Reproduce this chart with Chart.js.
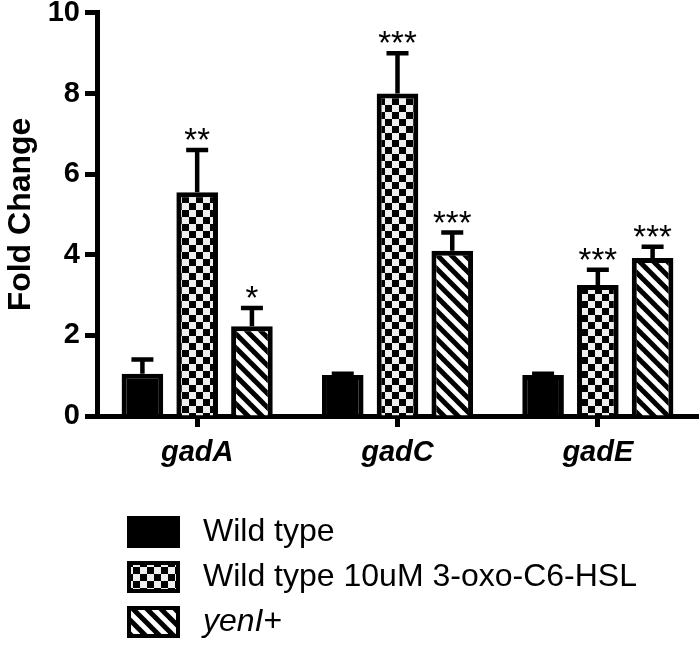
<!DOCTYPE html>
<html>
<head>
<meta charset="utf-8">
<script src="https://cdn.jsdelivr.net/npm/chart.js@4.4.1/dist/chart.umd.min.js"></script>
<style>
  html, body { margin: 0; padding: 0; background: #fff; }
  #wrap { width: 700px; height: 647px; }
</style>
</head>
<body>
<div id="wrap"><canvas id="c" width="700" height="647"></canvas></div>
<script>
// ---- data ----
const categories = ['gadA', 'gadC', 'gadE'];
const seriesNames = ['Wild type', 'Wild type 10uM 3-oxo-C6-HSL', 'yenI+'];
const wildType = [1.05, 1.02, 1.02];
const wildTypeErr = [0.35, 0.03, 0.03];
const ahl = [5.55, 8.0, 3.25];
const ahlErr = [1.05, 1.0, 0.38];
const yenI = [2.23, 4.1, 3.92];
const yenIErr = [0.45, 0.45, 0.28];
const wildTypeStars = ['', '', ''];
const ahlStars = ['**', '***', '***'];
const yenIStars = ['*', '***', '***'];
const yTicks = [0, 2, 4, 6, 8, 10];

// ---- patterns ----
function checkerPattern() {
  const s = 7;
  const cv = document.createElement('canvas');
  cv.width = 2 * s; cv.height = 2 * s;
  const g = cv.getContext('2d');
  g.fillStyle = '#eeeeee';
  g.fillRect(0, 0, 2 * s, 2 * s);
  g.fillStyle = '#000';
  g.fillRect(0, 0, s, s);
  g.fillRect(s, s, s, s);
  return g.createPattern(cv, 'repeat');
}
function hatchPattern() {
  const s = 14;
  const cv = document.createElement('canvas');
  cv.width = s; cv.height = s;
  const g = cv.getContext('2d');
  g.fillStyle = '#fff';
  g.fillRect(0, 0, s, s);
  g.strokeStyle = '#000';
  g.lineWidth = 5;
  for (const k of [-s, 0, s]) {
    g.beginPath();
    g.moveTo(-s, -s + k);
    g.lineTo(2 * s, 2 * s + k);
    g.stroke();
  }
  return g.createPattern(cv, 'repeat');
}
const fills = ['#000000', checkerPattern(), hatchPattern()];
const errs = [wildTypeErr, ahlErr, yenIErr];
const stars = [wildTypeStars, ahlStars, yenIStars];

const FONT = "'Liberation Sans', Arial, Helvetica, sans-serif";

// ---- error bars + stars ----
const errorBarPlugin = {
  id: 'errorBars',
  afterDatasetsDraw(chart) {
    const ctx = chart.ctx;
    const ys = chart.scales.y;
    chart.data.datasets.forEach((ds, i) => {
      const meta = chart.getDatasetMeta(i);
      meta.data.forEach((bar, j) => {
        const v = ds.data[j];
        const e = errs[i][j];
        const yTop = ys.getPixelForValue(v);
        const yCap = ys.getPixelForValue(v + e);
        ctx.save();
        ctx.strokeStyle = '#000';
        ctx.lineWidth = 4.5;
        ctx.lineCap = 'butt';
        ctx.beginPath();
        ctx.moveTo(bar.x, yTop);
        ctx.lineTo(bar.x, yCap);
        ctx.moveTo(bar.x - 11, yCap);
        ctx.lineTo(bar.x + 11, yCap);
        ctx.stroke();
        const st = stars[i][j];
        if (st) {
          ctx.fillStyle = '#000';
          ctx.font = '33px ' + FONT;
          ctx.textAlign = 'center';
          ctx.textBaseline = 'alphabetic';
          ctx.fillText(st, bar.x, yCap + 1);
        }
        ctx.restore();
      });
    });
  }
};

// ---- legend ----
const legendPlugin = {
  id: 'customLegend',
  afterDraw(chart) {
    const ctx = chart.ctx;
    const rows = [532, 577, 622];
    const bx = 127, bw = 53, bh = 32;
    ctx.save();
    rows.forEach((cy, i) => {
      ctx.fillStyle = '#000';
      ctx.fillRect(bx, cy - bh / 2, bw, bh);
      ctx.fillStyle = fills[i];
      if (i > 0) ctx.fillRect(bx + 4, cy - bh / 2 + 4, bw - 8, bh - 8);
      ctx.fillStyle = '#000';
      ctx.textBaseline = 'middle';
      ctx.textAlign = 'left';
      const name = seriesNames[i];
      if (i === 2) {
        ctx.font = 'italic 32px ' + FONT;
        const base = name.slice(0, -1);
        ctx.fillText(base, 203, cy);
        const w = ctx.measureText(base).width;
        ctx.font = '32px ' + FONT;
        ctx.fillText('+', 203 + w, cy);
      } else {
        ctx.font = '32px ' + FONT;
        ctx.fillText(name, 203, cy);
      }
    });
    ctx.restore();
  }
};

new Chart(document.getElementById('c'), {
  type: 'bar',
  data: {
    labels: categories,
    datasets: seriesNames.map((n, i) => ({
      label: n,
      data: [wildType, ahl, yenI][i],
      backgroundColor: fills[i],
      borderColor: '#000',
      borderWidth: 5,
      borderSkipped: 'bottom',
      categoryPercentage: 0.82,
      barPercentage: 0.76
    }))
  },
  options: {
    responsive: false,
    devicePixelRatio: 1,
    animation: false,
    layout: { padding: { top: 0, right: 2, bottom: 170, left: 0 } },
    plugins: { legend: { display: false }, tooltip: { enabled: false } },
    scales: {
      x: {
        afterFit(scale) { scale.height = 61; },
        grid: { display: true, drawOnChartArea: false, drawTicks: true, tickLength: 11, tickWidth: 5, tickColor: '#000', offset: false },
        border: { display: true, color: '#000', width: 5 },
        ticks: { color: '#000', padding: 9, font: { family: FONT, size: 29, weight: 'bold', style: 'italic' } }
      },
      y: {
        min: 0, max: 10,
        afterFit(scale) { scale.width = 97; },
        afterBuildTicks(scale) { scale.ticks = yTicks.map(v => ({ value: v })); },
        grid: { display: true, drawOnChartArea: false, drawTicks: true, tickLength: 12, tickWidth: 5, tickColor: '#000' },
        border: { display: true, color: '#000', width: 5 },
        title: { display: true, text: 'Fold Change', color: '#000', padding: { top: 2, bottom: 2 }, font: { family: FONT, size: 32, weight: 'bold' } },
        ticks: { color: '#000', padding: 5, font: { family: FONT, size: 29, weight: 'bold', lineHeight: 0.55 } }
      }
    }
  },
  plugins: [errorBarPlugin, legendPlugin]
});
</script>
</body>
</html>
